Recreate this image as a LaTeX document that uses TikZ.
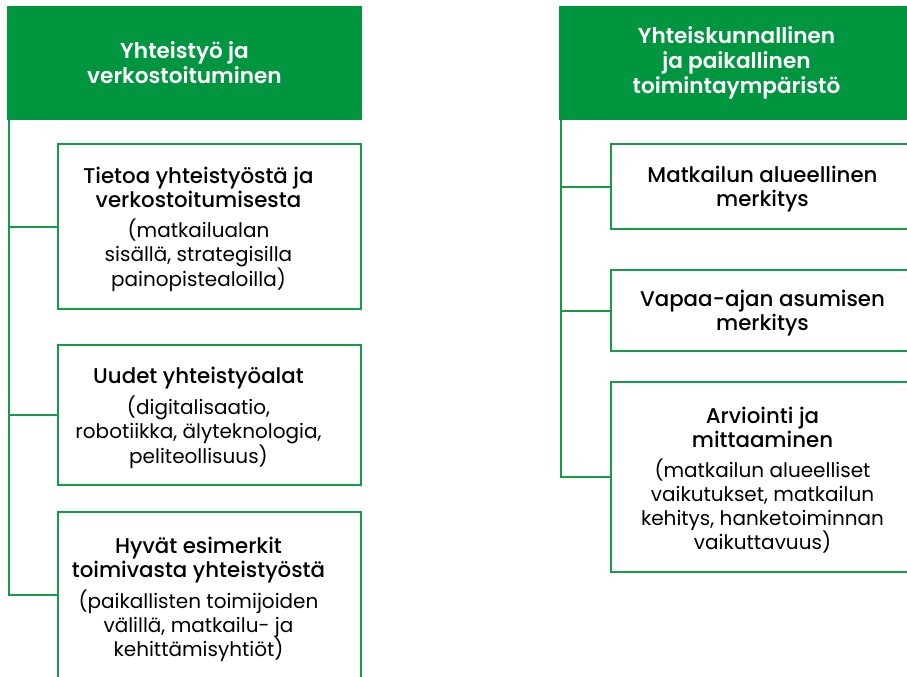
\documentclass[tikz,border=0pt]{standalone}
\usepackage{fontspec}
\setmainfont{Poppins}
\newfontfamily\titlefont{Poppins Medium}
\newfontfamily\headfont{Poppins SemiBold}
\usepackage{tikz}

\definecolor{vihrea}{RGB}{0,150,64}
\definecolor{reuna}{RGB}{22,156,72}

\newcommand{\otsikko}[1]{{\titlefont\fontsize{16}{18.3}\selectfont #1}}

\begin{document}
\begin{tikzpicture}[x=0.75pt, y=-0.75pt,
    header/.style={fill=vihrea, draw=none, minimum width=355*0.75pt, minimum height=114*0.75pt,
        text=white, align=center, font=\headfont\fontsize{16.2}{18.8}\selectfont},
    box/.style={draw=reuna, line width=1.8pt, fill=white, minimum width=303*0.75pt},
    boxtext/.style={align=center, yshift=-3*0.75pt, font=\fontsize{15}{18}\selectfont},
    link/.style={draw=reuna, line width=1.5pt}]
    \clip (0,0) rectangle (907,676);
    \fill[white] (0,0) rectangle (907,676);

    % vasen sarake
    \node (hdrL) at (184.5, 63) [header] {Yhteistyö ja\\ verkostoituminen};
    \node (tieto) at (209.5, 226.5) [box, minimum height=165*0.75pt] {};
    \node (uudet) at (209.5, 415) [box, minimum height=140*0.75pt] {};
    \node (hyvat) at (209.5, 595) [box, minimum height=166*0.75pt] {};

    \node (tietoT) at ([xshift=-11*0.75pt]tieto.center) [boxtext]
        {\otsikko{Tietoa yhteistyöstä ja}\\ \otsikko{verkostoitumisesta}\\[4pt]
         (matkailualan\\ sisällä, strategisilla\\ painopistealoilla)};
    \node (uudetT) at ([xshift=-11*0.75pt]uudet.center) [boxtext]
        {\otsikko{Uudet yhteistyöalat}\\[4pt]
         (digitalisaatio,\\ robotiikka, älyteknologia,\\ peliteollisuus)};
    \node (hyvatT) at ([xshift=-11*0.75pt, yshift=-1*0.75pt]hyvat.center) [boxtext]
        {\otsikko{Hyvät esimerkit}\\ \otsikko{toimivasta yhteistyöstä}\\[4pt]
         (paikallisten toimijoiden\\ välillä, matkailu- ja\\ kehittämisyhtiöt)};

    \draw[link] ([xshift=2*0.75pt]hdrL.south west) |- (tieto.west);
    \draw[link] ([xshift=2*0.75pt]hdrL.south west) |- (uudet.west);
    \draw[link] ([xshift=2*0.75pt]hdrL.south west) |- (hyvat.west);

    % oikea sarake
    \node (hdrR) at (736.5, 63) [header] {Yhteiskunnallinen\\ ja paikallinen\\ toimintaympäristö};
    \node (alue) at (762.5, 186.5) [box, minimum height=85*0.75pt] {};
    \node (vapaa) at (762.5, 310.5) [box, minimum height=81*0.75pt] {};
    \node (arvio) at (762.5, 477) [box, minimum height=190*0.75pt] {};

    \node (alueT) at (alue.center) [boxtext]
        {\otsikko{Matkailun alueellinen}\\ \otsikko{merkitys}};
    \node (vapaaT) at (vapaa.center) [boxtext]
        {\otsikko{Vapaa-ajan asumisen}\\ \otsikko{merkitys}};
    \node (arvioT) at (arvio.center) [boxtext]
        {\otsikko{Arviointi ja}\\ \otsikko{mittaaminen}\\[4pt]
         (matkailun alueelliset\\ vaikutukset, matkailun\\ kehitys, hanketoiminnan\\ vaikuttavuus)};

    \draw[link] ([xshift=2*0.75pt]hdrR.south west) |- (alue.west);
    \draw[link] ([xshift=2*0.75pt]hdrR.south west) |- (vapaa.west);
    \draw[link] ([xshift=2*0.75pt]hdrR.south west) |- (arvio.west);
\end{tikzpicture}
\end{document}
